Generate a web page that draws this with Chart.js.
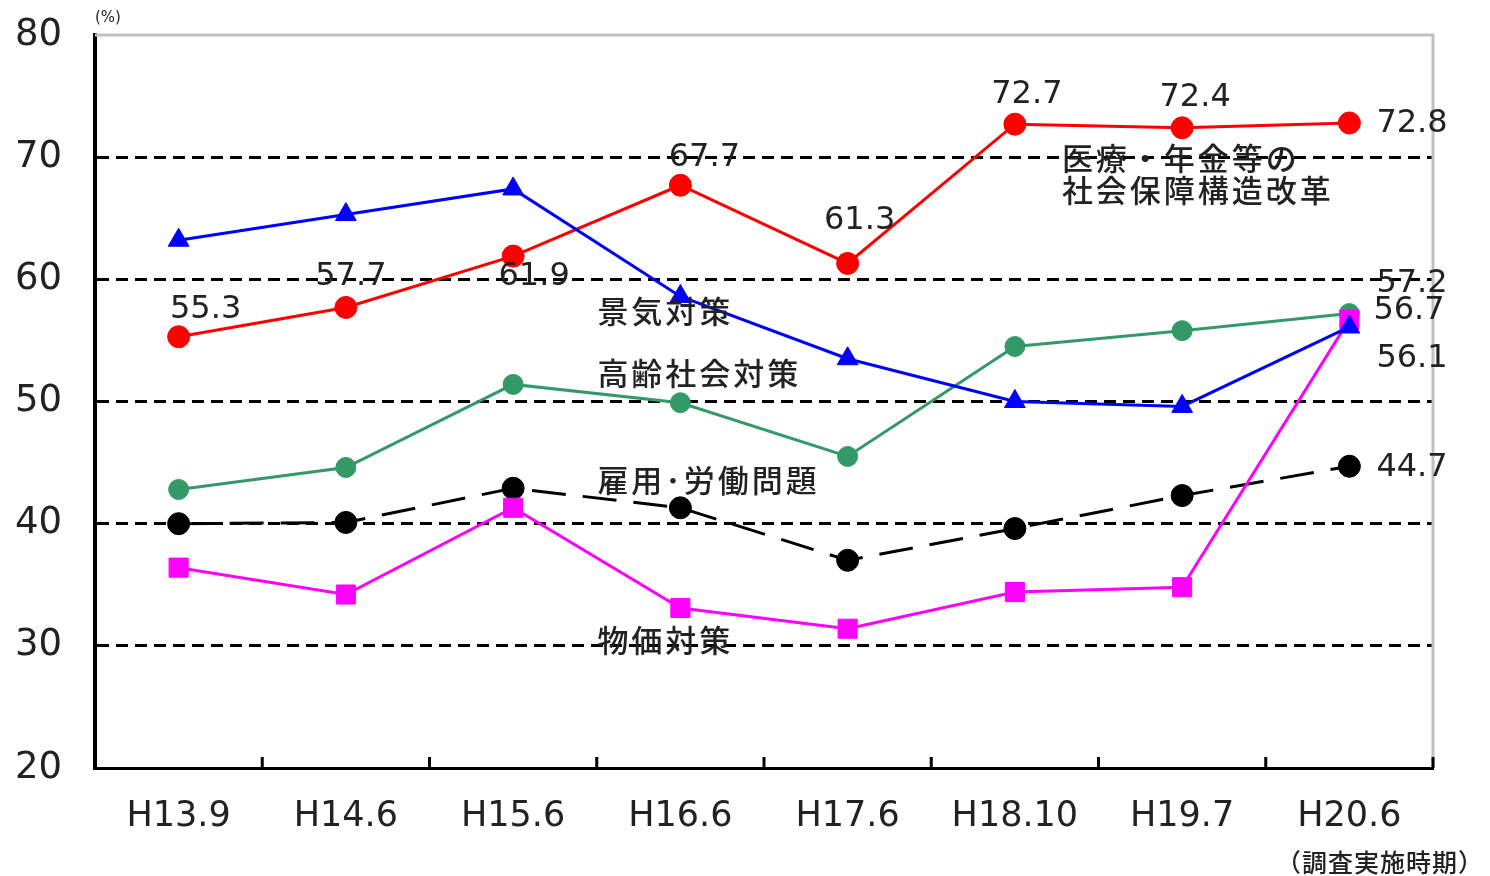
<!DOCTYPE html>
<html lang="ja">
<head>
    <meta charset="UTF-8">
    <title>chart</title>
    <script src="https://cdn.jsdelivr.net/npm/chart.js"></script>
    <style>
        html, body { margin: 0; padding: 0; background: #fff; }
        #wrap { width: 1490px; height: 876px; }
    </style>
</head>
<body>
    <div id="wrap"><canvas id="grafico"></canvas></div>

    <script>
        // datos
        const periodos = ['H13.9', 'H14.6', 'H15.6', 'H16.6', 'H17.6', 'H18.10', 'H19.7', 'H20.6'];
        const shakaiHosho = [55.3, 57.7, 61.9, 67.7, 61.3, 72.7, 72.4, 72.8];
        const keiki = [63.2, 65.3, 67.4, 58.6, 53.5, 50.0, 49.6, 56.1];
        const koreiShakai = [42.8, 44.6, 51.4, 49.9, 45.5, 54.5, 55.8, 57.2];
        const koyo = [40.0, 40.1, 42.9, 41.3, 37.0, 39.6, 42.3, 44.7];
        const bukka = [36.4, 34.2, 41.3, 33.1, 31.4, 34.4, 34.8, 56.7];
        const yTicks = [20, 30, 40, 50, 60, 70, 80];

        const FONT_NUM = '"DejaVu Sans", sans-serif';
        const FONT_JP = '"Noto Sans CJK JP", sans-serif';
        const TXT = '#222222';

        // etiquetas de valor: [dataset, indice, dx, dy, alinhamento]
        const rotulosValor = [
            [0, 0, 27, -27, 'center'],
            [0, 1, 5, -31, 'center'],
            [0, 2, 21, 21, 'center'],
            [0, 3, 24, -28, 'center'],
            [0, 4, 12, -43, 'center'],
            [0, 5, 12, -29, 'center'],
            [0, 6, 13, -30, 'center'],
            [0, 7, 27, 1, 'left'],
            [2, 7, 27, -30, 'left'],
            [4, 7, 24, -9, 'left'],
            [1, 7, 27, 32, 'left'],
            [3, 7, 27, 1, 'left']
        ];

        // nomes das séries
        const rotulosNome = [
            ['医療・年金等の', 0, 5, 47, 34],
            ['社会保障構造改革', 0, 5, 47, 66],
            ['景気対策', 1, 3, -83, 15],
            ['高齢社会対策', 2, 3, -83, -30],
            ['雇用･労働問題', 3, 3, -83, -28],
            ['物価対策', 4, 3, -83, 32]
        ];

        const textosPlugin = {
            id: 'textos',
            afterDatasetsDraw(chart) {
                const ctx = chart.ctx;
                const xs = chart.scales.x;
                const ys = chart.scales.y;
                const area = chart.chartArea;
                ctx.save();

                // tiques do eixo x (para dentro)
                ctx.strokeStyle = '#000';
                ctx.lineWidth = 3;
                for (let i = 1; i <= periodos.length; i++) {
                    let x;
                    if (i < periodos.length) {
                        x = (xs.getPixelForValue(i - 1) + xs.getPixelForValue(i)) / 2;
                    } else {
                        x = area.right;
                    }
                    ctx.beginPath();
                    ctx.moveTo(x, area.bottom);
                    ctx.lineTo(x, area.bottom - 11);
                    ctx.stroke();
                }

                ctx.fillStyle = TXT;
                ctx.textBaseline = 'middle';
                ctx.font = '32px ' + FONT_NUM;
                for (const r of rotulosValor) {
                    const ds = chart.data.datasets[r[0]].data;
                    const x = xs.getPixelForValue(r[1]) + r[2];
                    const y = ys.getPixelForValue(ds[r[1]]) + r[3];
                    ctx.textAlign = r[4];
                    ctx.fillText(ds[r[1]].toFixed(1), x, y);
                }

                ctx.font = '500 31px ' + FONT_JP;
                ctx.letterSpacing = '3px';
                ctx.textAlign = 'left';
                for (const r of rotulosNome) {
                    const ds = chart.data.datasets[r[1]].data;
                    const x = xs.getPixelForValue(r[2]) + r[3];
                    const y = ys.getPixelForValue(ds[r[2]]) + r[4];
                    ctx.fillText(r[0], x, y);
                }
                ctx.letterSpacing = '0px';

                ctx.font = '15px ' + FONT_NUM;
                ctx.fillText('(%)', area.left, area.top - 17);

                ctx.font = '500 25px ' + FONT_JP;
                ctx.letterSpacing = '1px';
                ctx.textAlign = 'right';
                ctx.fillText('（調査実施時期）', chart.width - 6, chart.height - 14);
                ctx.restore();
            },
            beforeDatasetsDraw(chart) {
                // moldura cinza em cima e à direita
                const ctx = chart.ctx;
                const a = chart.chartArea;
                ctx.save();
                ctx.strokeStyle = '#c0c0c0';
                ctx.lineWidth = 3;
                ctx.beginPath();
                ctx.moveTo(a.left, a.top);
                ctx.lineTo(a.right, a.top);
                ctx.lineTo(a.right, a.bottom);
                ctx.stroke();
                ctx.restore();
            }
        };

        const ctx = document.getElementById('grafico').getContext('2d');
        new Chart(ctx, {
            type: 'line',
            data: {
                labels: periodos,
                datasets: [
                    {
                        label: '医療・年金等の社会保障構造改革',
                        data: shakaiHosho,
                        borderColor: '#ff0000',
                        backgroundColor: '#ff0000',
                        borderWidth: 3,
                        pointStyle: 'circle',
                        pointRadius: 11,
                        pointBorderWidth: 1,
                        order: 3
                    },
                    {
                        label: '景気対策',
                        data: keiki,
                        borderColor: '#0000ff',
                        backgroundColor: '#0000ff',
                        borderWidth: 3,
                        pointStyle: 'triangle',
                        pointRadius: 12,
                        pointBorderWidth: 1,
                        order: 1
                    },
                    {
                        label: '高齢社会対策',
                        data: koreiShakai,
                        borderColor: '#339966',
                        backgroundColor: '#339966',
                        borderWidth: 3,
                        pointStyle: 'circle',
                        pointRadius: 10,
                        pointBorderWidth: 1,
                        order: 4
                    },
                    {
                        label: '雇用・労働問題',
                        data: koyo,
                        borderColor: '#000000',
                        backgroundColor: '#000000',
                        borderWidth: 3,
                        borderDash: [34, 17],
                        pointStyle: 'circle',
                        pointRadius: 11,
                        pointBorderWidth: 1,
                        order: 5
                    },
                    {
                        label: '物価対策',
                        data: bukka,
                        borderColor: '#ff00ff',
                        backgroundColor: '#ff00ff',
                        borderWidth: 3,
                        pointStyle: 'rect',
                        pointRadius: 13.5,
                        pointBorderWidth: 1,
                        order: 2
                    }
                ]
            },
            options: {
                responsive: true,
                maintainAspectRatio: false,
                animation: false,
                layout: { padding: { top: 35, right: 57, left: 0, bottom: 0 } },
                plugins: {
                    legend: { display: false },
                    tooltip: { enabled: false }
                },
                elements: { line: { tension: 0 } },
                scales: {
                    x: {
                        offset: true,
                        grid: { display: false, drawTicks: false },
                        border: { display: true, color: '#000', width: 3 },
                        ticks: {
                            color: TXT,
                            padding: 28,
                            font: { family: FONT_NUM, size: 35 }
                        },
                        afterFit(scale) { scale.height = 108; }
                    },
                    y: {
                        min: 20,
                        max: 80,
                        afterBuildTicks(scale) {
                            scale.ticks = yTicks.map(v => ({ value: v }));
                        },
                        grid: {
                            drawTicks: true,
                            tickLength: 33,
                            tickColor: 'rgba(0,0,0,0)',
                            lineWidth: 3,
                            color: function (c) {
                                return (c.tick.value === 20 || c.tick.value === 80) ? 'rgba(0,0,0,0)' : '#000';
                            }
                        },
                        border: { display: true, color: '#000', width: 4, dash: [12, 7] },
                        ticks: {
                            color: TXT,
                            padding: 0,
                            font: { family: FONT_NUM, size: 37 }
                        },
                        afterFit(scale) {
                            scale.width = 95;
                            scale.paddingTop = 0;
                            scale.paddingBottom = 0;
                        }
                    }
                }
            },
            plugins: [textosPlugin]
        });
    </script>
</body>
</html>
